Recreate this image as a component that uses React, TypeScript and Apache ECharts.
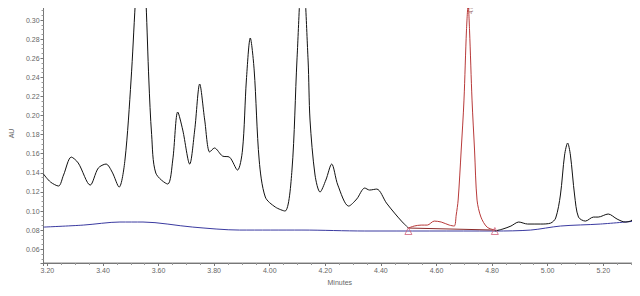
import React, { useEffect, useRef } from "react";
import * as echarts from "echarts";

// Black chromatogram trace, before the integrated peak
const blackTimeA = [3.186, 3.211, 3.240, 3.258, 3.286, 3.311, 3.354, 3.383, 3.411, 3.433, 3.458, 3.479, 3.501, 3.516, 3.537, 3.555, 3.565, 3.575, 3.590, 3.633, 3.651, 3.669, 3.687, 3.712, 3.730, 3.748, 3.766, 3.784, 3.801, 3.830, 3.855, 3.884, 3.902, 3.916, 3.930, 3.944, 3.962, 3.984, 4.020, 4.055, 4.080, 4.098, 4.118, 4.138, 4.145, 4.163, 4.181, 4.202, 4.223, 4.245, 4.284, 4.313, 4.342, 4.359, 4.385, 4.420, 4.449, 4.474, 4.499];
const blackAUA = [0.1387, 0.1304, 0.1262, 0.1377, 0.1565, 0.1503, 0.1272, 0.1450, 0.1492, 0.1408, 0.1251, 0.1534, 0.2372, 0.3168, 0.4200, 0.3168, 0.2372, 0.1800, 0.1398, 0.1283, 0.1534, 0.2037, 0.1848, 0.1492, 0.1848, 0.2330, 0.1953, 0.1618, 0.1660, 0.1576, 0.1565, 0.1429, 0.1639, 0.2372, 0.2812, 0.2476, 0.1534, 0.1147, 0.1042, 0.1000, 0.1429, 0.2581, 0.3600, 0.2581, 0.1953, 0.1377, 0.1199, 0.1325, 0.1492, 0.1272, 0.1052, 0.1126, 0.1241, 0.1220, 0.1230, 0.1084, 0.0979, 0.0895, 0.0822];

// Integrated peak (red)
const peakTime = [4.499, 4.520, 4.545, 4.567, 4.592, 4.617, 4.646, 4.664, 4.671, 4.678, 4.689, 4.699, 4.708, 4.714, 4.719, 4.728, 4.737, 4.746, 4.760, 4.782, 4.810];
const peakAU = [0.0822, 0.0843, 0.0853, 0.0853, 0.0895, 0.0885, 0.0853, 0.0843, 0.0958, 0.1115, 0.1639, 0.2162, 0.2895, 0.3157, 0.2895, 0.2162, 0.1639, 0.1115, 0.0937, 0.0832, 0.0801];

// Black trace after the integrated peak
const blackTimeB = [4.810, 4.839, 4.868, 4.896, 4.928, 4.975, 5.011, 5.029, 5.046, 5.061, 5.072, 5.082, 5.097, 5.111, 5.136, 5.165, 5.182, 5.218, 5.250, 5.279, 5.304, 5.318];
const blackAUB = [0.0791, 0.0812, 0.0843, 0.0885, 0.0864, 0.0864, 0.0874, 0.0927, 0.1168, 0.1586, 0.1712, 0.1586, 0.1168, 0.0937, 0.0895, 0.0937, 0.0937, 0.0969, 0.0916, 0.0885, 0.0906, 0.1010];

// Blue baseline trace
const baseTime = [3.186, 3.329, 3.461, 3.544, 3.723, 3.891, 4.116, 4.342, 4.810, 4.939, 5.046, 5.190, 5.318];
const baseAU = [0.0832, 0.0853, 0.0885, 0.0885, 0.0832, 0.0801, 0.0801, 0.0791, 0.0791, 0.0801, 0.0843, 0.0864, 0.0895];

// Integration start/end markers
const markTime = [4.499, 4.810];
const markAU = [0.0791, 0.0791];

const apexTime = 4.714;
const apexAU = 0.3157;

const xMin = 3.186;
const xMax = 5.318;
const yMin = 0.0456;
const yMax = 0.3168;

const zip = (a: number[], b: number[]) => a.map((t, i) => [t, b[i]]);

export default function App() {
  const ref = useRef<HTMLDivElement>(null);
  useEffect(() => {
    if (!ref.current) return;
    const chart = echarts.init(ref.current, null, { renderer: "svg" });
    const font = "Liberation Sans";
    const axisCommon = {
      axisLine: { show: true, lineStyle: { color: "#777", width: 1 } },
      axisTick: { show: true, length: 3, lineStyle: { color: "#777" } },
      minorTick: { show: true, splitNumber: 4, length: 2, lineStyle: { color: "#999" } },
      splitLine: { show: false },
      axisLabel: { fontSize: 7, color: "#666", fontFamily: font, showMinLabel: false, showMaxLabel: false },
      nameTextStyle: { fontSize: 7, color: "#666", fontFamily: font },
    };
    chart.setOption({
      animation: false,
      backgroundColor: "#fff",
      grid: { left: 40, right: 4, top: 4, bottom: 33, show: true, borderColor: "#888", borderWidth: 1 },
      xAxis: {
        type: "value",
        min: xMin,
        max: xMax,
        splitNumber: 11,
        name: "Minutes",
        nameLocation: "middle",
        nameGap: 13,
        ...axisCommon,
        axisLabel: { ...axisCommon.axisLabel, margin: 4, formatter: (v: number) => v.toFixed(2) },
      },
      yAxis: {
        type: "value",
        min: yMin,
        max: yMax,
        splitNumber: 13,
        name: "AU",
        nameLocation: "middle",
        nameGap: 20,
        ...axisCommon,
        axisLabel: { ...axisCommon.axisLabel, margin: 4, formatter: (v: number) => v.toFixed(2) },
      },
      series: [
        {
          type: "line",
          data: zip(baseTime, baseAU),
          symbol: "none",
          smooth: 0.3,
          lineStyle: { color: "#3a3aa0", width: 1 },
          z: 1,
        },
        {
          type: "line",
          data: zip(blackTimeA, blackAUA),
          symbol: "none",
          smooth: 0.3,
          lineStyle: { color: "#111", width: 1 },
          z: 2,
        },
        {
          type: "line",
          data: zip(blackTimeB, blackAUB),
          symbol: "none",
          smooth: 0.3,
          lineStyle: { color: "#111", width: 1 },
          z: 2,
        },
        {
          type: "line",
          data: zip(markTime, [peakAU[0], peakAU[peakAU.length - 1]]),
          symbol: "none",
          lineStyle: { color: "#8a2a2a", width: 1 },
          z: 3,
        },
        {
          type: "line",
          data: zip(peakTime, peakAU),
          symbol: "none",
          smooth: 0.3,
          lineStyle: { color: "#b83a3a", width: 1 },
          z: 4,
        },
        {
          type: "scatter",
          data: zip(markTime, markAU),
          symbol: "triangle",
          symbolSize: 7,
          itemStyle: { color: "rgba(255,255,255,0)", borderColor: "#d0607a", borderWidth: 1 },
          z: 5,
        },
        {
          type: "scatter",
          data: [[apexTime, apexAU]],
          symbol: "circle",
          symbolSize: 1,
          itemStyle: { color: "rgba(255,255,255,0)" },
          label: {
            show: true,
            position: "bottom",
            rotate: 90,
            fontSize: 5,
            color: "#6a2020",
            fontFamily: font,
            distance: 2,
            formatter: () => apexTime.toFixed(3),
          },
          z: 6,
        },
      ],
    });
    return () => chart.dispose();
  }, []);
  return <div ref={ref} style={{ width: 640, height: 296, margin: -8 }} />;
}
